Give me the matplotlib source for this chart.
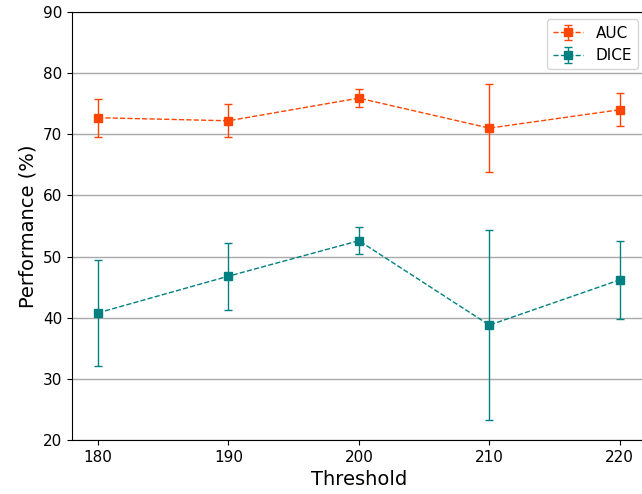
import matplotlib
matplotlib.use('Agg')
import matplotlib.pyplot as plt
import numpy as np

# Data
thresholds = [180, 190, 200, 210, 220]
auc_mean = [72.7, 72.2, 75.9, 71.0, 74.0]
auc_err = [3.1, 2.7, 1.5, 7.2, 2.7]
dice_mean = [40.8, 46.8, 52.6, 38.8, 46.2]
dice_err = [8.7, 5.5, 2.2, 15.5, 6.4]

fig = plt.figure(figsize=(6.42, 4.94), dpi=100)
ax = fig.add_axes([0.112, 0.109, 0.894, 0.867])

ax.errorbar(thresholds, auc_mean, yerr=auc_err, fmt='s--', color='orangered',
            markersize=6, capsize=3, linewidth=1, elinewidth=1, label='AUC')
ax.errorbar(thresholds, dice_mean, yerr=dice_err, fmt='s--', color='teal',
            markersize=6, capsize=3, linewidth=1, elinewidth=1, label='DICE')

ax.set_xlim(178, 222)
ax.set_ylim(20, 90)
ax.set_xticks(thresholds)
ax.set_yticks(np.arange(20, 91, 10))
ax.tick_params(labelsize=11)
ax.set_xlabel('Threshold', fontsize=14)
ax.set_ylabel('Performance (%)', fontsize=14)
ax.grid(axis='y', color='darkgrey', linewidth=1)
ax.set_axisbelow(True)

ax.legend(loc='upper right', fontsize=11)

fig.savefig('out.png', dpi=100)
